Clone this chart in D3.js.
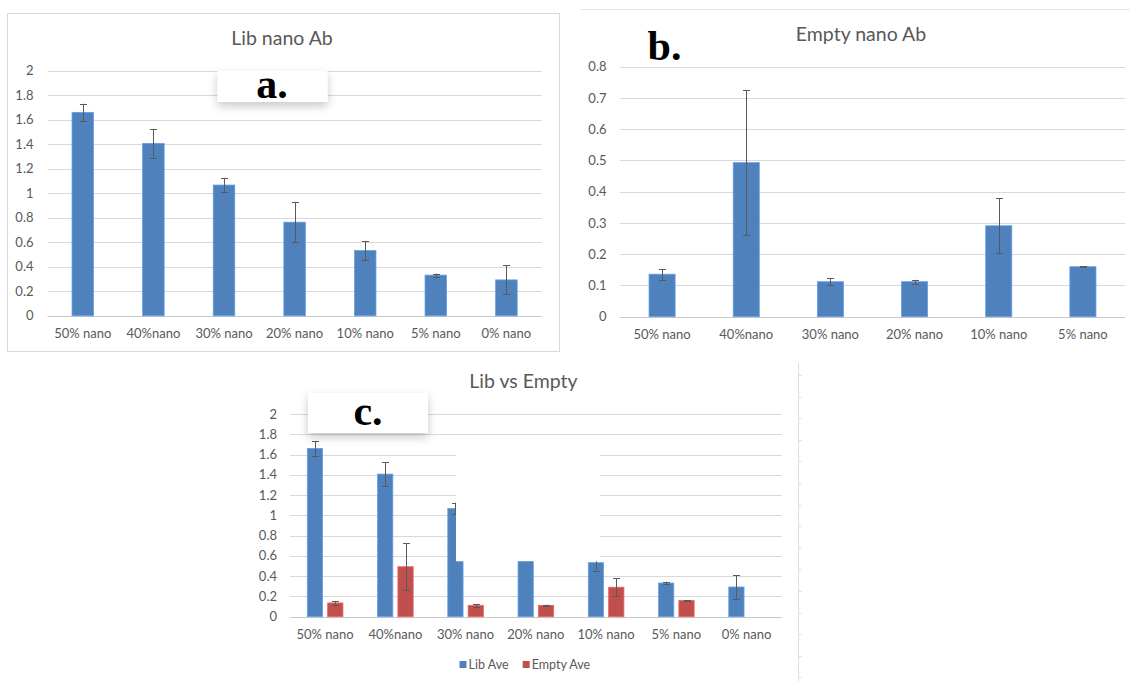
<!DOCTYPE html>
<html>
<head>
<meta charset="utf-8">
<script src="https://cdn.jsdelivr.net/npm/d3@7"></script>
<style>
  html, body { margin: 0; padding: 0; background: #fff; }
  svg { display: block; font-family: Lato, "Open Sans", sans-serif; }
</style>
</head>
<body>
<script>
/* global d3 */
var width  = 1130;
var height = 681;

// data
var libCategories   = ['50% nano', '40%nano', '30% nano', '20% nano', '10% nano', '5% nano', '0% nano'];
var emptyCategories = ['50% nano', '40%nano', '30% nano', '20% nano', '10% nano', '5% nano'];
var libAve   = [1.66, 1.407, 1.067, 0.764, 0.533, 0.332, 0.293];
var libErr   = [0.07, 0.118, 0.058, 0.165, 0.078, 0.013, 0.118];
var emptyAve = [0.136, 0.493, 0.112, 0.112, 0.291, 0.16];
var emptyErr = [0.017, 0.232, 0.012, 0.006, 0.088, 0.002];
var libTicks   = [0, 0.2, 0.4, 0.6, 0.8, 1, 1.2, 1.4, 1.6, 1.8, 2];
var emptyTicks = [0, 0.1, 0.2, 0.3, 0.4, 0.5, 0.6, 0.7, 0.8];
var seriesNames = ['Lib Ave', 'Empty Ave'];

var blue = '#4f81bd';
var red  = '#c0504d';
var textColor = '#595959';
var gridColor = '#d9d9d9';
var fmt = d3.format('.1~f');

var svg = d3.select('body')
  .append('svg')
  .attr('width', width)
  .attr('height', height)
  .attr('viewBox', [0, 0, width, height].join(' '));

var defs = svg.append('defs');
defs.append('filter')
  .attr('id', 'shadow')
  .attr('x', '-30%').attr('y', '-40%').attr('width', '160%').attr('height', '220%')
  .append('feDropShadow')
  .attr('dx', 0).attr('dy', 4).attr('stdDeviation', 5)
  .attr('flood-color', '#000').attr('flood-opacity', 0.22);

/*
* Gridlines and y tick labels
*/
function yAxis(g, y, ticks, x0, x1, labelX) {
  g.append('g').selectAll('line')
    .data(ticks)
    .enter().append('line')
    .attr('x1', x0).attr('x2', x1)
    .attr('y1', function (d) { return Math.round(y(d)) + 0.5; })
    .attr('y2', function (d) { return Math.round(y(d)) + 0.5; })
    .attr('stroke', function (d) { return d === 0 ? '#c8c8c8' : gridColor; })
    .attr('stroke-width', 1);

  g.append('g').selectAll('text')
    .data(ticks)
    .enter().append('text')
    .attr('x', labelX)
    .attr('y', function (d) { return y(d); })
    .attr('dy', '0.35em')
    .attr('text-anchor', 'end')
    .attr('font-size', 13)
    .attr('fill', textColor)
    .text(fmt);
}

/*
* Category labels under the plot
*/
function xLabels(g, x, cats, labelY) {
  g.append('g').selectAll('text')
    .data(cats)
    .enter().append('text')
    .attr('x', function (d) { return x(d) + x.bandwidth() / 2; })
    .attr('y', labelY)
    .attr('dy', '0.35em')
    .attr('text-anchor', 'middle')
    .attr('font-size', 13)
    .attr('fill', textColor)
    .text(function (d) { return d; });
}

/*
* Bars with error bars; left(d) gives the bar's left edge
*/
function bars(g, rows, left, bw, y, color) {
  var grp = g.append('g');
  grp.selectAll('rect')
    .data(rows)
    .enter().append('rect')
    .attr('x', left)
    .attr('width', bw)
    .attr('y', function (d) { return y(d.value); })
    .attr('height', function (d) { return y(0) - y(d.value); })
    .attr('fill', color)
    .attr('stroke', d3.color(color).brighter(0.6))
    .attr('stroke-width', 0.8);

  var err = grp.selectAll('g.err')
    .data(rows)
    .enter().append('g')
    .attr('class', 'err')
    .attr('stroke', '#5a5a5a')
    .attr('stroke-width', 1);
  var cx = function (d) { return Math.round(left(d) + bw / 2) + 0.5; };
  err.append('line')
    .attr('x1', cx).attr('x2', cx)
    .attr('y1', function (d) { return y(d.value + d.err); })
    .attr('y2', function (d) { return y(d.value - d.err); });
  [1, -1].forEach(function (s) {
    err.append('line')
      .attr('x1', function (d) { return cx(d) - 3.5; })
      .attr('x2', function (d) { return cx(d) + 3.5; })
      .attr('y1', function (d) { return Math.round(y(d.value + s * d.err)) + 0.5; })
      .attr('y2', function (d) { return Math.round(y(d.value + s * d.err)) + 0.5; });
  });
}

function rowsOf(cats, values, errs) {
  return cats.map(function (c, i) { return { cat: c, value: values[i], err: errs[i] }; });
}

function title(g, text, x, y) {
  g.append('text')
    .attr('x', x).attr('y', y)
    .attr('text-anchor', 'middle')
    .attr('font-size', 19.5)
    .attr('fill', textColor)
    .text(text);
}

function letter(g, text, x, y) {
  g.append('text')
    .attr('x', x).attr('y', y)
    .attr('text-anchor', 'middle')
    .attr('font-family', '"Liberation Serif", "DejaVu Serif", serif')
    .attr('font-weight', 'bold')
    .attr('font-size', 42)
    .attr('fill', '#000')
    .text(text);
}

function labelBox(g, x, y, w, h) {
  g.append('rect')
    .attr('x', x).attr('y', y)
    .attr('width', w).attr('height', h)
    .attr('fill', '#fff')
    .attr('filter', 'url(#shadow)');
}

// ---------- a. Lib nano Ab ----------
var ga = svg.append('g');
ga.append('rect')
  .attr('x', 7.5).attr('y', 13.5).attr('width', 552).attr('height', 338)
  .attr('fill', 'none').attr('stroke', gridColor);

var yA = d3.scaleLinear().domain([0, 2]).range([315.8, 70.7]);
var xA = d3.scaleBand().domain(libCategories).range([47.5, 541.7])
  .paddingInner(0.695).paddingOuter(0.3475);
yAxis(ga, yA, libTicks, 47.5, 541.7, 33.5);
xLabels(ga, xA, libCategories, 333.5);
bars(ga, rowsOf(libCategories, libAve, libErr),
  function (d) { return xA(d.cat); }, xA.bandwidth(), yA, blue);
title(ga, 'Lib nano Ab', 282, 45);
labelBox(ga, 217.5, 71, 110, 31);
letter(ga, 'a.', 272, 97.5);

// ---------- b. Empty nano Ab ----------
var gb = svg.append('g');
gb.append('line')
  .attr('x1', 580).attr('x2', 1130).attr('y1', 9.5).attr('y2', 9.5)
  .attr('stroke', '#e6e6e6');

var yB = d3.scaleLinear().domain([0, 0.8]).range([316.7, 66.7]);
var xB = d3.scaleBand().domain(emptyCategories).range([620, 1125])
  .paddingInner(0.69).paddingOuter(0.345);
yAxis(gb, yB, emptyTicks, 620, 1125, 606.5);
xLabels(gb, xB, emptyCategories, 334.3);
bars(gb, rowsOf(emptyCategories, emptyAve, emptyErr),
  function (d) { return xB(d.cat); }, xB.bandwidth(), yB, blue);
title(gb, 'Empty nano Ab', 861, 41);
letter(gb, 'b.', 664.5, 60);

// ---------- c. Lib vs Empty ----------
var gc = svg.append('g');
var yC = d3.scaleLinear().domain([0, 2]).range([616.7, 414]);
var xC = d3.scaleBand().domain(libCategories).range([290, 781.7])
  .paddingInner(0.493).paddingOuter(0.2465);
var xS = d3.scaleBand().domain(seriesNames).range([0, xC.bandwidth()]).paddingInner(0.25);
yAxis(gc, yC, libTicks, 290, 781.7, 277);
xLabels(gc, xC, libCategories, 634);
bars(gc, rowsOf(libCategories, libAve, libErr),
  function (d) { return xC(d.cat) + xS('Lib Ave'); }, xS.bandwidth(), yC, blue);
bars(gc, rowsOf(emptyCategories, emptyAve, emptyErr),
  function (d) { return xC(d.cat) + xS('Empty Ave'); }, xS.bandwidth(), yC, red);

// white patch pasted over the figure (hides part of the 30%/20% bars)
var patchLeft  = Math.round(xC('30% nano') + xS('Lib Ave') + xS.bandwidth() / 2) + 1;
var patchRight = xC('10% nano') + xS('Lib Ave') + xS.bandwidth() / 2 + 4;
gc.append('rect')
  .attr('x', patchLeft)
  .attr('y', yC(1.7))
  .attr('width', patchRight - patchLeft)
  .attr('height', yC(0.547) - yC(1.7))
  .attr('fill', '#fff');

title(gc, 'Lib vs Empty', 523.5, 388);
labelBox(gc, 308, 393, 120, 40);
letter(gc, 'c.', 368, 425);

// legend
var legend = gc.append('g').selectAll('g')
  .data(seriesNames)
  .enter().append('g')
  .attr('transform', function (d, i) { return 'translate(' + [459.5, 522.7][i] + ',661)'; });
legend.append('rect')
  .attr('width', 7).attr('height', 7)
  .attr('fill', function (d, i) { return i === 0 ? blue : red; });
legend.append('text')
  .attr('x', 9).attr('y', 3.7).attr('dy', '0.35em')
  .attr('font-size', 12.5)
  .attr('fill', textColor)
  .text(function (d) { return d; });

// spreadsheet edge to the right of chart c
var edge = svg.append('g').attr('stroke', '#dedede');
edge.append('line')
  .attr('x1', 798.5).attr('x2', 798.5).attr('y1', 363).attr('y2', height);
edge.selectAll('line.tick')
  .data(d3.range(375, height, 21.6))
  .enter().append('line')
  .attr('class', 'tick')
  .attr('x1', 798.5).attr('x2', 801.5)
  .attr('y1', function (d) { return Math.round(d) + 0.5; })
  .attr('y2', function (d) { return Math.round(d) + 0.5; });
</script>
</body>
</html>
